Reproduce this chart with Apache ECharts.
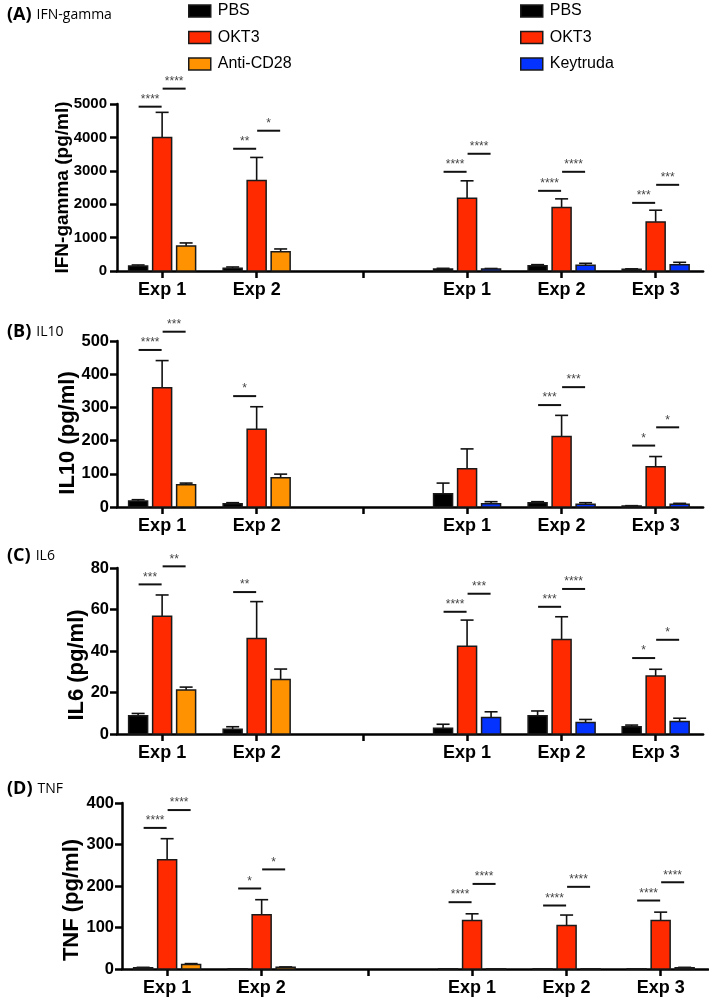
<!DOCTYPE html>
<html><head><meta charset="utf-8">
<script src="https://cdn.jsdelivr.net/npm/echarts@6/dist/echarts.min.js"></script>
<style>html,body{margin:0;padding:0;background:#fff}#c{width:709px;height:1001px}</style>
</head><body><div id="c"></div>
<script>
// ---------------- data ----------------
const groupNames = ['Exp 1', 'Exp 2', 'Exp 1', 'Exp 2', 'Exp 3'];
// PBS / OKT3 cover all 5 groups, Anti-CD28 groups 0-1, Keytruda groups 2-4

// (A) IFN-gamma
const ifnPBS = [150, 80, 60, 160, 50];
const ifnPBSErr = [30, 40, 20, 30, 15];
const ifnOKT3 = [4000, 2710, 2180, 1900, 1470];
const ifnOKT3Err = [750, 690, 520, 260, 350];
const ifnCD28 = [750, 580];
const ifnCD28Err = [90, 80];
const ifnKey = [60, 170, 190];
const ifnKeyErr = [15, 60, 70];
const ifnSig = [[0, 0, 4920, '****'], [0, 1, 5460, '****'], [1, 0, 3660, '**'], [1, 1, 4200, '*'],
  [2, 0, 2970, '****'], [2, 1, 3510, '****'], [3, 0, 2400, '****'], [3, 1, 2970, '****'],
  [4, 0, 2040, '***'], [4, 1, 2580, '***']];

// (B) IL10
const il10PBS = [18, 10, 40, 13, 3];
const il10PBSErr = [4, 3, 32, 3, 1];
const il10OKT3 = [359, 234, 115, 212, 121];
const il10OKT3Err = [82, 68, 60, 64, 31];
const il10CD28 = [67, 88];
const il10CD28Err = [5, 11];
const il10Key = [10, 8, 8];
const il10KeyErr = [6, 5, 3];
const il10Sig = [[0, 0, 473, '****'], [0, 1, 528, '***'], [1, 0, 334, '*'],
  [3, 0, 307, '***'], [3, 1, 361, '***'], [4, 0, 185, '*'], [4, 1, 240, '*']];

// (C) IL6
const il6PBS = [8.8, 2.3, 2.8, 8.8, 3.5];
const il6PBSErr = [1.1, 1.2, 1.9, 2.3, 0.8];
const il6OKT3 = [56.8, 46, 42.3, 45.5, 27.9];
const il6OKT3Err = [10.2, 17.8, 12.6, 11, 3.3];
const il6CD28 = [21.2, 26.3];
const il6CD28Err = [1.4, 5];
const il6Key = [8, 5.5, 6];
const il6KeyErr = [2.7, 1.5, 1.6];
const il6Sig = [[0, 0, 72.1, '***'], [0, 1, 80.8, '**'], [1, 0, 68.4, '**'],
  [2, 0, 58.9, '****'], [2, 1, 67.6, '***'], [3, 0, 61.3, '***'], [3, 1, 69.9, '****'],
  [4, 0, 36.6, '*'], [4, 1, 45.4, '*']];

// (D) TNF
const tnfPBS = [3, 0.5, 0.5, 0.5, 0.5];
const tnfPBSErr = [1, 0, 0, 0, 0];
const tnfOKT3 = [263, 131, 117, 105, 117];
const tnfOKT3Err = [51, 36, 16, 25, 20];
const tnfCD28 = [11, 4];
const tnfCD28Err = [2, 1];
const tnfKey = [0.5, 0.5, 3];
const tnfKeyErr = [0, 0, 1];
const tnfSig = [[0, 0, 340, '****'], [0, 1, 383, '****'], [1, 0, 194, '*'], [1, 1, 240, '*'],
  [2, 0, 161, '****'], [2, 1, 205, '****'], [3, 0, 153, '****'], [3, 1, 198, '****'],
  [4, 0, 165, '****'], [4, 1, 209, '****']];

// ---------------- layout / style ----------------
const GROUP_X = [0.475, 1.47, 3.685, 4.68, 5.67];
const TICK_X = [0.475, 1.47, 2.59, 3.685, 4.68, 5.67];
const X_MAX = 6.17;
const BAR_W = 19, PITCH = 24, CAP = 13;
const COLORS = { PBS: '#000000', OKT3: '#ff2a00', 'Anti-CD28': '#ff9200', Keytruda: '#0433ff' };
const FONT = 'Liberation Sans, Arial, sans-serif';

const panels = [
  { label: '(A)', name: 'IFN-gamma', yName: 'IFN-gamma (pg/ml)', max: 5000, interval: 1000, left: 117, top: 104, height: 167,
    tickFont: 15, labelMargin: 10, nameFont: 19, nameGap: 45, namePad: [0, 0, 0, 0],
    pbs: [ifnPBS, ifnPBSErr], okt3: [ifnOKT3, ifnOKT3Err], cd28: [ifnCD28, ifnCD28Err], key: [ifnKey, ifnKeyErr], sig: ifnSig },
  { label: '(B)', name: 'IL10', yName: 'IL10 (pg/ml)', max: 500, interval: 100, left: 117, top: 341, height: 166,
    tickFont: 16.5, labelMargin: 8, nameFont: 22, nameGap: 38, namePad: [0, 18, 0, 0],
    pbs: [il10PBS, il10PBSErr], okt3: [il10OKT3, il10OKT3Err], cd28: [il10CD28, il10CD28Err], key: [il10Key, il10KeyErr], sig: il10Sig },
  { label: '(C)', name: 'IL6', yName: 'IL6 (pg/ml)', max: 80, interval: 20, left: 117, top: 568, height: 166,
    tickFont: 16.5, labelMargin: 8, nameFont: 22, nameGap: 29, namePad: [0, 28, 0, 0],
    pbs: [il6PBS, il6PBSErr], okt3: [il6OKT3, il6OKT3Err], cd28: [il6CD28, il6CD28Err], key: [il6Key, il6KeyErr], sig: il6Sig },
  { label: '(D)', name: 'TNF', yName: 'TNF (pg/ml)', max: 400, interval: 100, left: 122, top: 803, height: 166,
    tickFont: 16.5, labelMargin: 8, nameFont: 22, nameGap: 39, namePad: [0, 28, 0, 0],
    pbs: [tnfPBS, tnfPBSErr], okt3: [tnfOKT3, tnfOKT3Err], cd28: [tnfCD28, tnfCD28Err], key: [tnfKey, tnfKeyErr], sig: tnfSig }
];
const PANEL_LABEL_TOP = [1, 318, 542, 775];

function barItem(offset, color) {
  return function (params, api) {
    const x = api.value(0), v = api.value(1), e = api.value(2);
    const base = api.coord([x, 0]);
    const top = api.coord([x, v]);
    const et = api.coord([x, v + e]);
    const cx = base[0] + offset;
    const kids = [];
    if (e > 0) {
      kids.push({ type: 'line', shape: { x1: cx, y1: top[1], x2: cx, y2: et[1] }, style: { stroke: '#111', lineWidth: 1.6 } });
      kids.push({ type: 'line', shape: { x1: cx - CAP / 2, y1: et[1], x2: cx + CAP / 2, y2: et[1] }, style: { stroke: '#111', lineWidth: 1.6 } });
    }
    kids.push({ type: 'rect', shape: { x: cx - BAR_W / 2, y: top[1], width: BAR_W, height: base[1] - top[1] },
      style: { fill: color, stroke: '#1a1a1a', lineWidth: 1.5 } });
    return { type: 'group', children: kids };
  };
}

function sigItem(sig) {
  return function (params, api) {
    const g = api.value(0), pair = api.value(1), y = api.value(2);
    const p = api.coord([GROUP_X[g], y]);
    const x1 = p[0] + (pair === 0 ? -PITCH : 0);
    const x2 = x1 + PITCH;
    return { type: 'group', children: [
      { type: 'line', shape: { x1: x1 + 0.5, y1: p[1], x2: x2 - 0.5, y2: p[1] }, style: { stroke: '#111', lineWidth: 2 } },
      { type: 'text', style: { text: sig[params.dataIndex][3], x: (x1 + x2) / 2, y: p[1] - 1, align: 'center', verticalAlign: 'bottom',
        fontSize: 12, fontFamily: FONT, fill: '#444' } }
    ] };
  };
}

const grids = [], xAxes = [], yAxes = [], series = [], titles = [];
panels.forEach((P, i) => {
  grids.push({ left: P.left, top: P.top, width: X_MAX * 95, height: P.height });
  xAxes.push({ gridIndex: i, type: 'value', min: 0, max: X_MAX,
    axisLine: { show: true, onZero: false, lineStyle: { color: '#000', width: 2.5 } },
    splitLine: { show: false },
    axisTick: { show: true, customValues: TICK_X, length: 7, lineStyle: { color: '#000', width: 2.5 } },
    axisLabel: { show: true, customValues: GROUP_X, margin: 10, fontSize: 18, fontWeight: 'bold', color: '#000', fontFamily: FONT,
      formatter: v => { const k = GROUP_X.findIndex(g => Math.abs(g - v) < 1e-6); return k >= 0 ? groupNames[k] : ''; } }
  });
  yAxes.push({ gridIndex: i, type: 'value', min: 0, max: P.max, interval: P.interval,
    axisLine: { show: true, lineStyle: { color: '#000', width: 2.5 } },
    axisTick: { show: true, length: 7, lineStyle: { color: '#000', width: 2.5 } },
    splitLine: { show: false },
    axisLabel: { margin: P.labelMargin, fontSize: P.tickFont, fontWeight: 'bold', color: '#000', fontFamily: FONT, formatter: v => String(v) },
    name: P.yName, nameLocation: 'middle', nameGap: P.nameGap, nameMoveOverlap: false,
    nameTextStyle: { fontSize: P.nameFont, fontWeight: 'bold', color: '#000', fontFamily: FONT, padding: P.namePad }
  });
  const mk = (name, arr, groups, offset) => ({
    name, type: 'custom', xAxisIndex: i, yAxisIndex: i, clip: false, silent: true,
    itemStyle: { color: COLORS[name] },
    renderItem: barItem(offset, COLORS[name]),
    data: arr[0].map((v, k) => [GROUP_X[groups[k]], v, arr[1][k]])
  });
  series.push(mk('PBS', P.pbs, [0, 1, 2, 3, 4], -PITCH));
  series.push(mk('OKT3', P.okt3, [0, 1, 2, 3, 4], 0));
  series.push(mk('Anti-CD28', P.cd28, [0, 1], PITCH));
  series.push(mk('Keytruda', P.key, [2, 3, 4], PITCH));
  series.push({ type: 'custom', xAxisIndex: i, yAxisIndex: i, clip: false, silent: true,
    renderItem: sigItem(P.sig), data: P.sig.map(s => [s[0], s[1], s[2]]) });
  titles.push({ left: 2, top: PANEL_LABEL_TOP[i], text: '{b|' + P.label + '} {n|' + P.name + '}',
    textStyle: { fontWeight: 'normal', rich: { b: { fontSize: 18, fontWeight: 'bold', fontFamily: 'Open Sans', color: '#000' },
      n: { fontSize: 14, fontWeight: 'normal', fontFamily: 'Open Sans', color: '#000' } } } });
});

const legendBase = { orient: 'vertical', top: -2, itemWidth: 22, itemHeight: 12, itemGap: 10.5, icon: 'rect',
  textStyle: { fontSize: 16, fontFamily: FONT, color: '#000', lineHeight: 16, padding: [0, 0, 0, 2] }, selectedMode: false };
const legendItem = n => ({ name: n, itemStyle: { color: COLORS[n], borderColor: '#1a1a1a', borderWidth: 1.5 } });

const chart = echarts.init(document.getElementById('c'), null, { renderer: 'canvas' });
chart.setOption({
  animation: false,
  backgroundColor: '#fff',
  title: titles,
  legend: [
    Object.assign({}, legendBase, { left: 183, data: ['PBS', 'OKT3', 'Anti-CD28'].map(legendItem) }),
    Object.assign({}, legendBase, { left: 515, data: ['PBS', 'OKT3', 'Keytruda'].map(legendItem) })
  ],
  grid: grids, xAxis: xAxes, yAxis: yAxes, series
});
</script></body></html>
